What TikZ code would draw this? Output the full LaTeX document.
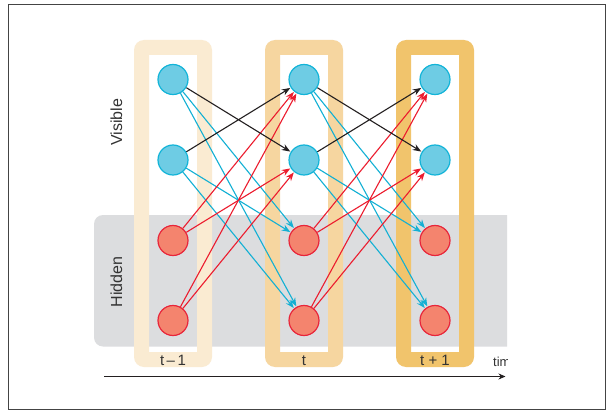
\documentclass[tikz,border=0pt]{standalone}
\usepackage{fontspec}
\setmainfont{Liberation Sans}
\usetikzlibrary{arrows.meta}
\pgfdeclarelayer{background}
\pgfdeclarelayer{edges}
\pgfsetlayers{background,edges,main}
\definecolor{colA}{HTML}{FAEBD2}
\definecolor{colB}{HTML}{F6D6A0}
\definecolor{colC}{HTML}{F1C46C}
\definecolor{band}{HTML}{DCDDDF}
\definecolor{visfill}{HTML}{6ECCE4}
\definecolor{visline}{HTML}{12B4D8}
\definecolor{hidfill}{HTML}{F4846E}
\definecolor{hidline}{HTML}{E8253A}
\definecolor{edgeblue}{HTML}{12B0D4}
\definecolor{edgered}{HTML}{EC1C2E}
\definecolor{edgeblack}{HTML}{231F20}
\definecolor{txt}{HTML}{333333}
\definecolor{frame}{HTML}{444444}
\begin{document}
\begin{tikzpicture}[x=1pt,y=-1pt,
  vis/.style={circle,draw=visline,fill=visfill,line width=1.2pt,minimum size=30pt,inner sep=0pt},
  hid/.style={circle,draw=hidline,fill=hidfill,line width=1.2pt,minimum size=30pt,inner sep=0pt},
  link/.style={line width=1.1pt,-{Stealth[length=8.5pt,width=6.5pt]},shorten >=0.5pt},
  lblue/.style={link,draw=edgeblue,color=edgeblue},
  lred/.style={link,draw=edgered,color=edgered},
  lblack/.style={link,draw=edgeblack,color=edgeblack},
  lab/.style={text=txt,font=\fontsize{15}{15}\selectfont,inner sep=0pt},
  side/.style={lab,rotate=90,font=\fontsize{16}{16}\selectfont}]
\useasboundingbox (0,0) rectangle (608,412);
\begin{pgfonlayer}{background}
\fill[white] (0,0) rectangle (608,412);
% hidden band
\begin{scope}
\clip (0,0) rectangle (507,412);
\fill[band,rounded corners=9pt] (94,215) rectangle (530,346.5);
\end{scope}
% columns
\fill[colA,even odd rule] [rounded corners=10pt] (134,40) rectangle (212,367) [sharp corners] (149,55) rectangle (197,352);
\fill[colB,even odd rule] [rounded corners=10pt] (265,40) rectangle (343,367) [sharp corners] (280,55) rectangle (328,352);
\fill[colC,even odd rule] [rounded corners=10pt] (396,40) rectangle (474,367) [sharp corners] (411,55) rectangle (459,352);
\end{pgfonlayer}
\draw[frame,line width=1.5pt] (8.5,4.5) rectangle (605.5,409.5);
% nodes
\foreach \c/\x in {1/173,2/304,3/435}{
  \node[vis] (va\c) at (\x,79.5) {};
  \node[vis] (vb\c) at (\x,160) {};
  \node[hid] (ha\c) at (\x,240.5) {};
  \node[hid] (hb\c) at (\x,320.5) {};
}
% edges
\begin{pgfonlayer}{edges}
\foreach \p/\n in {1/2,2/3}{
  \draw[lblue] (va\p) -- (ha\n);
  \draw[lblue] (va\p) -- (hb\n);
  \draw[lblue] (vb\p) -- (ha\n);
  \draw[lblue] (vb\p) -- (hb\n);
  \draw[lred] (ha\p) -- (va\n);
  \draw[lred] (ha\p) -- (vb\n);
  \draw[lred] (hb\p) -- (va\n);
  \draw[lred] (hb\p) -- (vb\n);
  \draw[lblack] (va\p) -- (vb\n);
  \draw[lblack] (vb\p) -- (va\n);
}
\end{pgfonlayer}
% labels
\node[lab,anchor=base] (l1) at (173,365) {t\,–\,1};
\node[lab,anchor=base] (l2) at (304,365) {t};
\node[lab,anchor=base] (l3) at (435,365) {t + 1};
\node[side] (vislab) at (116.5,122.5) {Visible};
\node[side] (hidlab) at (116.5,282) {Hidden};
% time axis
\coordinate (t0) at (104,376.5);
\coordinate (t1) at (505.5,376.5);
\draw[edgeblack,line width=1.1pt,-{Stealth[length=7pt,width=6pt]}] (t0) -- (t1);
\begin{scope}
\clip (480,340) rectangle (507,372);
\node[lab,anchor=base west,font=\fontsize{13}{13}\selectfont] (timelab) at (493,366) {time};
\end{scope}
\end{tikzpicture}
\end{document}
